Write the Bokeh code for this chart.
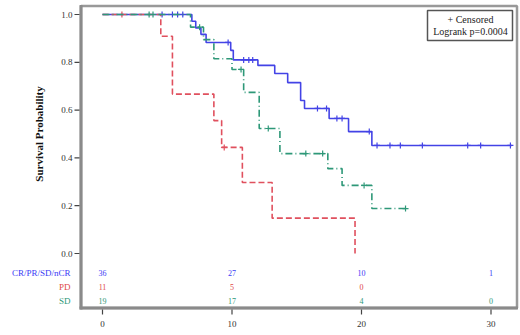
import math
from bokeh.plotting import figure
from bokeh.models import Range1d
from bokeh.core.properties import value
from bokeh.embed import file_html
from bokeh.resources import INLINE

# ---- data ----
groups = ["CR/PR/SD/nCR", "PD", "SD"]

blue_t = [0, 6.9, 7.2, 7.6, 8.0, 9.9, 10.1, 12.0, 13.3, 14.3, 15.3, 15.6, 17.5, 19.0, 20.8]
blue_s = [1.0, 0.972, 0.944, 0.917, 0.883, 0.85, 0.81, 0.787, 0.753, 0.715, 0.64, 0.607, 0.565, 0.51, 0.452]
blue_end = 31.6
blue_cens = [4.6, 5.4, 5.8, 6.2, 9.7, 10.9, 11.3, 11.6, 16.6, 17.3, 18.1, 18.5, 20.6,
             21.2, 22.2, 23.0, 24.7, 28.2, 29.2, 31.5]

red_t = [0, 4.5, 5.4, 8.6, 9.2, 10.8, 13.1, 19.5]
red_s = [1.0, 0.909, 0.667, 0.556, 0.444, 0.297, 0.148, 0.0]
red_end = 19.5
red_cens = [1.5, 9.4]

green_t = [0, 6.8, 7.8, 8.6, 10.0, 10.9, 12.1, 13.7, 17.4, 18.5, 20.8]
green_s = [1.0, 0.947, 0.895, 0.815, 0.77, 0.674, 0.523, 0.418, 0.355, 0.285, 0.188]
green_end = 23.4
green_cens = [3.6, 3.9, 7.5, 10.7, 12.8, 15.7, 17.0, 20.2, 23.4]

risk_times = [0, 10, 20, 30]
risk_blue = ["36", "27", "10", "1"]
risk_red = ["11", "5", "0", ""]
risk_green = ["19", "17", "4", "0"]

x_ticks = [0, 10, 20, 30]
x_tick_labels = ["0", "10", "20", "30"]
y_ticks = [0.0, 0.2, 0.4, 0.6, 0.8, 1.0]
y_tick_labels = ["0.0", "0.2", "0.4", "0.6", "0.8", "1.0"]

legend_lines = ["+ Censored", "Logrank p=0.0004"]
y_label = "Survival Probability"

# ---- styles / layout ----
colors = ["#4343e6", "#e0505e", "#2e9878"]
text_colors = ["#3a3af5", "#e04848", "#2e9878"]
dashes = ["solid", "6 3", "7 3 1 3"]
SERIF = "Liberation Serif"

W, H = 520, 335
X0_PX, PX_PER_X = 102.0, 12.95      # pixel of t=0, pixels per month
Y0_PX, PX_PER_Y = 253.0, 239.0      # pixel of S=0, pixels per unit survival


def dx(px):
    return (px - X0_PX) / PX_PER_X


def dy(py):
    return (Y0_PX - py) / PX_PER_Y


p = figure(width=W, height=H, output_backend="svg", toolbar_location=None,
           x_range=Range1d(dx(0), dx(W)), y_range=Range1d(dy(H), dy(0)),
           x_axis_location=None, y_axis_location=None,
           min_border_left=0, min_border_right=0, min_border_top=0, min_border_bottom=0)
p.grid.visible = False
p.outline_line_color = None
p.background_fill_color = "white"
p.border_fill_color = "white"

# frame: top/right as strokes, left/bottom as strokes plus thin filled bars
fl, fr, ft, fb = dx(80.5), dx(516.5), dy(5.5), dy(307.5)
p.line(x=[fl, fr, fr], y=[ft, ft, fb], line_color="#999999", line_width=2.5)
p.line(x=[fl, fl, fr], y=[ft, fb, fb], line_color="#8a8a8a", line_width=2.5)
p.quad(left=[dx(79), dx(79)], right=[dx(82), dx(517.5)], top=[dy(4.5), dy(306)],
       bottom=[dy(309), dy(309)], fill_color="#8a8a8a", line_color=None)

# x ticks (thin bars) and labels
p.quad(left=[t - 0.6 / PX_PER_X for t in x_ticks], right=[t + 0.6 / PX_PER_X for t in x_ticks],
       top=[dy(309)] * len(x_ticks), bottom=[dy(314)] * len(x_ticks),
       fill_color="#444444", line_color=None)
p.text(x=x_ticks, y=[dy(323)] * len(x_ticks), text=x_tick_labels, text_font=value(SERIF),
       text_font_size="9px", text_color="#333333", text_align="center", text_baseline="middle")

# y ticks (thin bars) and labels
p.quad(left=[dx(74)] * len(y_ticks), right=[dx(79)] * len(y_ticks),
       top=[s + 0.6 / PX_PER_Y for s in y_ticks], bottom=[s - 0.6 / PX_PER_Y for s in y_ticks],
       fill_color="#444444", line_color=None)
p.text(x=[dx(72)] * len(y_ticks), y=y_ticks, text=y_tick_labels, text_font=value(SERIF),
       text_font_size="9px", text_color="#333333", text_align="right", text_baseline="middle")

# y axis title
p.text(x=[dx(38)], y=[0.5], text=[y_label], angle=math.pi / 2, text_font=value(SERIF),
       text_font_style="bold", text_font_size="11px", text_color="#111111",
       text_align="center", text_baseline="middle")


def surv_at(ts, ss, t):
    s = ss[0]
    for ti, si in zip(ts, ss):
        if ti <= t:
            s = si
    return s


series = [(blue_t, blue_s, blue_end, blue_cens),
          (red_t, red_s, red_end, red_cens),
          (green_t, green_s, green_end, green_cens)]

for (ts, ss, tend, cens), col, dash in zip(series, colors, dashes):
    xs = list(ts) + [tend]
    ys = list(ss) + [ss[-1]]
    p.step(xs, ys, mode="after", line_color=col, line_width=1.6, line_dash=dash)
    cy = [surv_at(ts, ss, c) for c in cens]
    p.scatter(cens, cy, marker="cross", size=6, line_color=col, line_width=1.2)

# numbers at risk
risk_rows_px = [272, 286, 300]
for vals, g, col, ry in zip([risk_blue, risk_red, risk_green], groups, text_colors, risk_rows_px):
    p.text(x=risk_times, y=[dy(ry)] * len(risk_times), text=vals, text_font=value(SERIF),
           text_font_size="8px", text_color=col, text_align="center", text_baseline="middle")
    p.text(x=[dx(70)], y=[dy(ry)], text=[g], text_font=value(SERIF),
           text_font_size="9px", text_color=col, text_align="right", text_baseline="middle")

# legend box
p.quad(left=[dx(427)], right=[dx(512)], top=[dy(10)], bottom=[dy(40)], fill_color="white",
       line_color="#555555", line_width=1.5)
p.text(x=[dx(470)] * 2, y=[dy(19), dy(31)], text=legend_lines, text_font=value(SERIF),
       text_font_size="10px", text_color="#222222", text_align="center", text_baseline="middle")

open("out.html", "w").write(file_html(p, INLINE))
